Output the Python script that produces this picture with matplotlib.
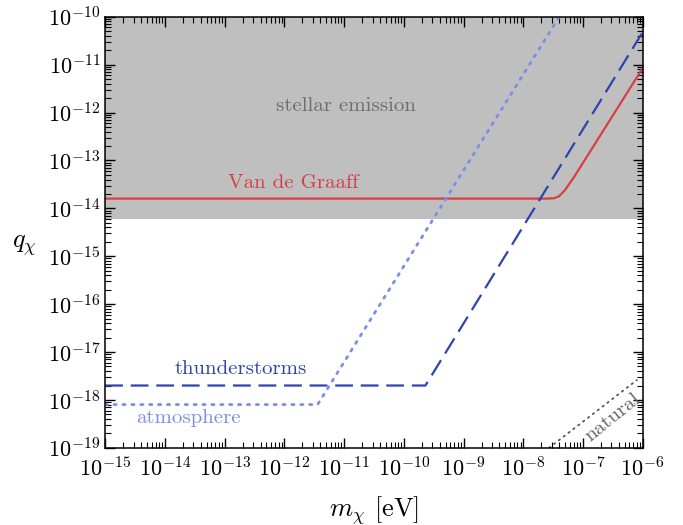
import numpy as np
import matplotlib
matplotlib.use("Agg")
from matplotlib import pyplot as plt
from matplotlib.ticker import LogLocator, NullFormatter

plt.rcParams['mathtext.fontset'] = 'cm'
plt.rcParams['font.family'] = ['cmr10', 'DejaVu Serif']
plt.rcParams['axes.formatter.use_mathtext'] = True

# 数据：从图中读取
vdg_m = [1e-15, 2.5e-8, 3.3e-8, 4e-8, 5e-8, 7e-8, 1e-6]
vdg_q = [1.6e-14, 1.6e-14, 1.63e-14, 1.8e-14, 2.4e-14, 4.4e-14, 8.5e-12]

thunder_m = [1e-15, 2.3e-10, 1e-6]
thunder_q = [2e-18, 2e-18, 4.8e-11]

atmos_m = [1e-15, 3.6e-12, 4e-8]
atmos_q = [8e-19, 8e-19, 1e-10]

natural_m = [2.7e-8, 8e-7]
natural_q = [1e-19, 2.6e-18]

stellar_lo = 6e-15
stellar_hi = 1e-10

x_range = [1e-15, 1e-6]
y_range = [1e-19, 1e-10]

fig = plt.figure(figsize=(6.83, 5.25), dpi=100)
ax = fig.add_axes([0.154, 0.147, 0.787, 0.821])

ax.fill_between(x_range, stellar_lo, stellar_hi, color='#bfbfbf', lw=0, zorder=0)

ax.plot(vdg_m, vdg_q, color='#d64045', lw=1.6, zorder=2)
ax.plot(thunder_m, thunder_q, color='#2f44ad', lw=1.6, dashes=(8, 3.5), zorder=2)
ax.plot(atmos_m, atmos_q, color='#7b8ee8', lw=2.0, dashes=(0.8, 2.4),
        dash_capstyle='round', zorder=2)
ax.plot(natural_m, natural_q, color='#555555', lw=1.3, dashes=(0.8, 2.6),
        dash_capstyle='round', zorder=2)

ax.set_xscale('log')
ax.set_yscale('log')
ax.set_xlim(x_range)
ax.set_ylim(y_range)

# 文字标注
ax.text(1.07e-11, 1.4e-12, 'stellar emission', color='#6e6e6e', fontsize=15,
        ha='center', va='center')
ax.text(1.4e-12, 3.4e-14, 'Van de Graaff', color='#d64045', fontsize=15,
        ha='center', va='center')
ax.text(1.9e-13, 4.4e-18, 'thunderstorms', color='#2f44ad', fontsize=15,
        ha='center', va='center')
ax.text(2.45e-14, 4.1e-19, 'atmosphere', color='#7b8ee8', fontsize=15,
        ha='center', va='center')
ax.text(3.2e-7, 4.4e-19, 'natural', color='#666666', fontsize=15,
        ha='center', va='center', rotation=39)

# 刻度设置
ax.xaxis.set_major_locator(LogLocator(base=10, numticks=20))
ax.yaxis.set_major_locator(LogLocator(base=10, numticks=20))
ax.xaxis.set_minor_locator(LogLocator(base=10, subs=np.arange(2, 10), numticks=20))
ax.yaxis.set_minor_locator(LogLocator(base=10, subs=np.arange(2, 10), numticks=20))
ax.xaxis.set_minor_formatter(NullFormatter())
ax.yaxis.set_minor_formatter(NullFormatter())
ax.tick_params(which='both', direction='in', top=True, right=True, labelsize=16)
ax.tick_params(which='major', length=7, width=1)
ax.tick_params(which='minor', length=4, width=0.8)
ax.tick_params(axis='x', which='major', pad=6)
for s in ax.spines.values():
    s.set_linewidth(1.1)
    s.set_zorder(5)

ax.set_xlabel(r'$m_\chi$ [eV]', fontsize=19)
ax.xaxis.set_label_coords(0.5, -0.108)
ax.set_ylabel(r'$q_\chi$', fontsize=19, rotation=0)
ax.yaxis.set_label_coords(-0.15, 0.44)

plt.savefig('out.png', dpi=100)
plt.close()
